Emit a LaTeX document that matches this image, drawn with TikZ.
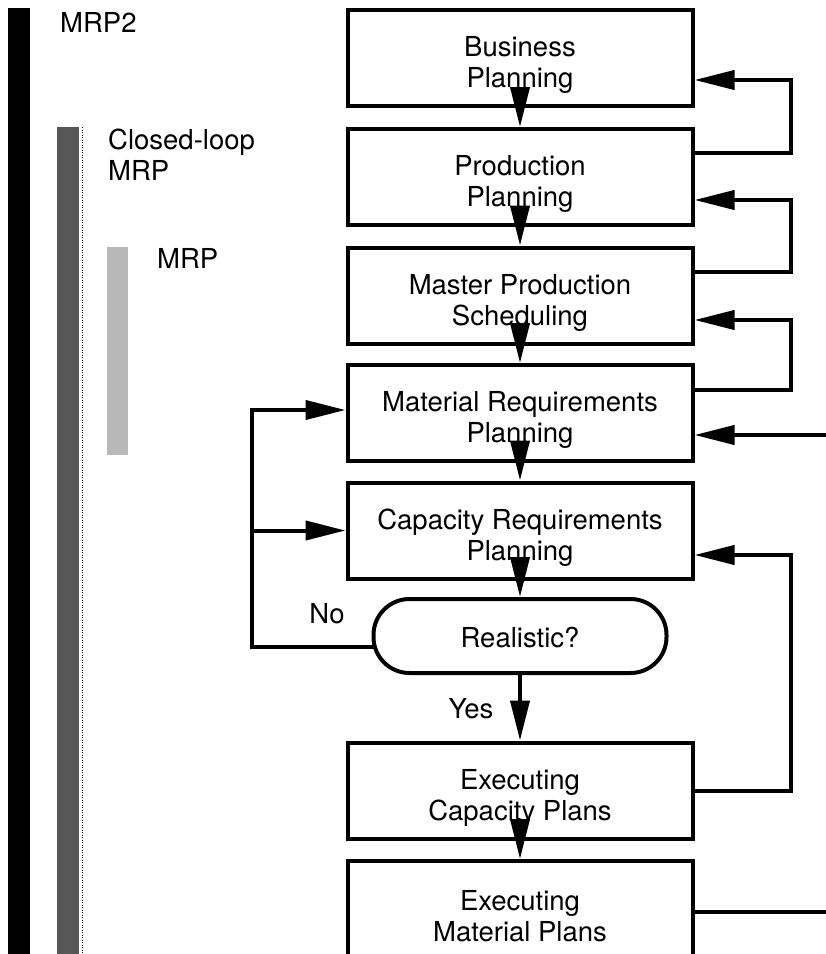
\documentclass[tikz,border=0pt]{standalone}
\usepackage{fontspec}
\setmainfont{TeX Gyre Heros}
\usetikzlibrary{arrows.meta}
\begin{document}
\begin{tikzpicture}[x=1pt,y=-1pt,
  box/.style={draw, line width=4pt, minimum width=345pt, minimum height=96pt, inner sep=0pt},
  decision/.style={draw, line width=4pt, rounded corners=36pt, minimum width=293pt, minimum height=74pt, inner sep=0pt},
  txt/.style={font=\fontsize{27.5}{31}\selectfont, align=center, inner sep=0pt},
  lab/.style={font=\fontsize{27.5}{31}\selectfont, inner sep=0pt},
  conn/.style={line width=4pt},
  arr/.style={conn, -{Triangle[length=40pt,width=19pt]}},
]
\path[use as bounding box] (0,0) rectangle (826,954);
\clip (0,0) rectangle (826,954);

% scope bars
\fill[black] (8,8) rectangle (30,960);
\fill[black!66] (57,127) rectangle (79,960);
\draw[line width=0.8pt, dash pattern=on 1pt off 1.5pt] (82.5,127) -- (82.5,960);
\fill[black!28] (107,247) rectangle (128,455);

\node[lab, anchor=base west] (mrp2) at (60,32) {MRP2};
\node[lab, anchor=west, align=left] (clmrp) at (108,155) {Closed-loop\\MRP};
\node[lab, anchor=base west] (mrpl) at (157,268) {MRP};

% planning chain
\node[box] (bp)   at (520,58)    {};
\node[box] (pp)   at (520,177)   {};
\node[box] (mps)  at (520,295.5) {};
\node[box] (mrpb) at (520,413)   {};
\node[box] (crp)  at (520,530.5) {};
\node[decision] (real) at (520,636) {};
\node[box] (ec)   at (520,790.5) {};
\node[box] (em)   at (520,909)   {};

\node[txt] (bpt)   at ([yshift=-7pt]bp.center)   {Business\\Planning};
\node[txt] (ppt)   at ([yshift=-7pt]pp.center)   {Production\\Planning};
\node[txt] (mpst)  at ([yshift=-7pt]mps.center)  {Master Production\\Scheduling};
\node[txt] (mrpt)  at ([yshift=-7pt]mrpb.center) {Material Requirements\\Planning};
\node[txt] (crpt)  at ([yshift=-7pt]crp.center)  {Capacity Requirements\\Planning};
\node[txt] (realt) at ([yshift=-1.5pt]real.center) {Realistic?};
\node[txt] (ect)   at ([yshift=-7pt]ec.center)   {Executing\\Capacity Plans};
\node[txt] (emt)   at ([yshift=-7pt]em.center)   {Executing\\Material Plans};

\node[lab] (no)  at (327,614) {No};
\node[lab] (yes) at (471,709) {Yes};

% downward flow
\draw[arr] (bp.south) -- (pp.north);
\draw[arr] (pp.south) -- (mps.north);
\draw[arr] (mps.south) -- (mrpb.north);
\draw[arr] (mrpb.south) -- (crp.north);
\draw[arr] (crp.south) -- (real.north);
\draw[arr] (real.south) -- (ec.north);
\draw[arr] (ec.south) -- (em.north);

% feedback on the right
\coordinate (rx) at (791,0);
\coordinate (edge) at (830,0);
\coordinate (ppOut)  at ([yshift=24pt]pp.east);
\coordinate (mpsOut) at ([yshift=24pt]mps.east);
\coordinate (mrpOut) at ([yshift=23pt]mrpb.east);
\coordinate (bpIn)   at ([yshift=-22pt]bp.east);
\coordinate (ppIn)   at ([yshift=-23pt]pp.east);
\coordinate (mpsIn)  at ([yshift=-24.5pt]mps.east);
\coordinate (mrpIn)  at ([yshift=-22pt]mrpb.east);
\coordinate (crpIn)  at ([yshift=-24.5pt]crp.east);
\coordinate (emOut)  at ([yshift=-3pt]em.east);

\draw[arr] (ppOut) -- (ppOut -| rx) |- (bpIn);
\draw[arr] (mpsOut) -- (mpsOut -| rx) |- (ppIn);
\draw[arr] (mrpOut) -- (mrpOut -| rx) |- (mpsIn);
\draw[arr] (mrpIn -| edge) -- (mrpIn);
\draw[arr] (ec.east) -- (ec.east -| rx) |- (crpIn);
\draw[conn] (emOut) -- (emOut -| edge);

% "No" loop on the left
\coordinate (lx) at (252,0);
\coordinate (noOut) at ([xshift=2pt,yshift=-11pt]real.west);
\coordinate (mrpLeft) at ([yshift=3pt]mrpb.west);
\draw[arr] (noOut) -- (noOut -| lx) |- (mrpLeft);
\draw[arr] (lx |- crp.west) -- (crp.west);
\end{tikzpicture}
\end{document}
